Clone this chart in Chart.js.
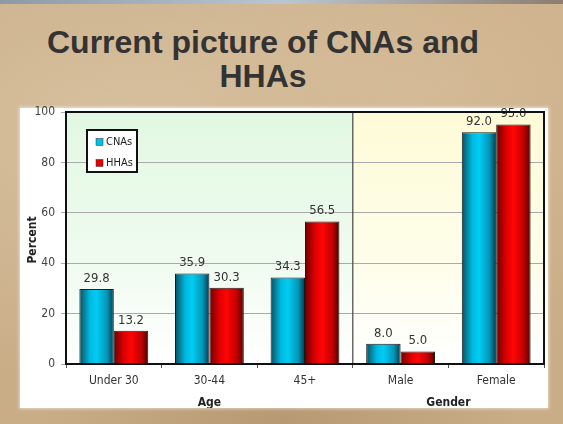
<!DOCTYPE html>
<html><head><meta charset="utf-8">
<script src="https://cdn.jsdelivr.net/npm/chart.js@4/dist/chart.umd.min.js"></script>
<style>
html,body{margin:0;padding:0;}
body{width:563px;height:424px;overflow:hidden;position:relative;
background:
 radial-gradient(ellipse at 20% 30%, rgba(225,205,175,0.6), rgba(0,0,0,0) 60%),
 radial-gradient(ellipse at 80% 20%, rgba(220,195,160,0.5), rgba(0,0,0,0) 55%),
 radial-gradient(ellipse at 50% 100%, rgba(165,135,95,0.5), rgba(0,0,0,0) 60%),
 #c9ad87;}
#strip{position:absolute;left:0;top:0;width:563px;height:4px;background:linear-gradient(90deg,#8c9aa8,#b9c6d2,#8e7d70);}
#title{position:absolute;left:0;top:25px;width:526px;text-align:center;font-family:"Liberation Sans",Arial,sans-serif;font-weight:bold;font-size:32px;line-height:34px;color:#333;}
#panel{position:absolute;left:20px;top:108px;width:528px;height:300px;background:#fff;box-shadow:0 0 3px 1px rgba(255,255,255,0.5);}
canvas{position:absolute;left:0;top:-8px;}
</style></head>
<body>
<div id="strip"></div>
<div id="title">Current picture of CNAs and<br>HHAs</div>
<div id="panel"><canvas id="c" width="528" height="308"></canvas></div>
<script>
const categories = ["Under 30","30-44","45+","Male","Female"];
const groups = [{name:"Age", from:0, to:2},{name:"Gender", from:3, to:4}];
const cnas = [29.8, 35.9, 34.3, 8.0, 92.0];
const hhas = [13.2, 30.3, 56.5, 5.0, 95.0];
const yTicks = [0,20,40,60,80,100];
const seriesNames = ["CNAs","HHAs"];

const FONT = "'Liberation Sans Narrow','DejaVu Sans Condensed',sans-serif";
const palettes = [
  ["#0a4f60","#00b8de","#00cdf4","#0596b8","#043a4a"],
  ["#6e0000","#e00000","#ff0505","#c00000","#4a0000"]
];
const solid = ["#00bfe8","#e80000"];

const plugin = {
  id:'custom',
  beforeDraw(chart){
    const {ctx, chartArea:a, scales:{x}} = chart;
    const div = (x.getPixelForValue(2)+x.getPixelForValue(3))/2;
    let g = ctx.createLinearGradient(0,a.top,0,a.bottom);
    g.addColorStop(0,"#e2f8e2"); g.addColorStop(0.55,"#eefbee"); g.addColorStop(1,"#ffffff");
    ctx.fillStyle=g; ctx.fillRect(a.left,a.top,div-a.left,a.bottom-a.top);
    g = ctx.createLinearGradient(0,a.top,0,a.bottom);
    g.addColorStop(0,"#fdfbd6"); g.addColorStop(0.55,"#fefde8"); g.addColorStop(1,"#ffffff");
    ctx.fillStyle=g; ctx.fillRect(div,a.top,a.right-div,a.bottom-a.top);
  },
  beforeDatasetsDraw(chart){
    const ctx = chart.ctx;
    chart.data.datasets.forEach((ds,di)=>{
      chart.getDatasetMeta(di).data.forEach(el=>{
        const l = el.x-el.width/2, r = el.x+el.width/2;
        const g = ctx.createLinearGradient(l,0,r,0);
        const p = palettes[di];
        g.addColorStop(0,p[0]); g.addColorStop(0.3,p[1]); g.addColorStop(0.5,p[2]); g.addColorStop(0.8,p[3]); g.addColorStop(1,p[4]);
        el.options = Object.assign({}, el.options, {backgroundColor:g});
      });
    });
  },
  afterDatasetsDraw(chart){
    const {ctx, chartArea:a, scales:{x}} = chart;
    ctx.save();
    ctx.font = "13px "+FONT; ctx.fillStyle="#333"; ctx.textAlign="center"; ctx.textBaseline="bottom";
    chart.data.datasets.forEach((ds,di)=>{
      chart.getDatasetMeta(di).data.forEach((el,i)=>{
        ctx.fillText(ds.data[i].toFixed(1), el.x, el.y-4);
      });
    });
    const div = (x.getPixelForValue(2)+x.getPixelForValue(3))/2;
    ctx.strokeStyle="#444"; ctx.lineWidth=1.2;
    ctx.beginPath(); ctx.moveTo(div,a.top); ctx.lineTo(div,a.bottom); ctx.stroke();
    ctx.strokeStyle="#111"; ctx.lineWidth=2;
    ctx.strokeRect(a.left,a.top,a.right-a.left,a.bottom-a.top);
    ctx.font = "bold 12px "+FONT; ctx.fillStyle="#222"; ctx.textBaseline="middle";
    groups.forEach(gr=>{
      const cx = (x.getPixelForValue(gr.from)+x.getPixelForValue(gr.to))/2;
      ctx.fillText(gr.name, cx, a.bottom+39);
    });
    ctx.save(); ctx.translate(13,(a.top+a.bottom)/2+2); ctx.rotate(-Math.PI/2);
    ctx.fillText("Percent",0,0); ctx.restore();
    const lx=a.left+21, ly=a.top+18, lw=50, lh=42;
    ctx.fillStyle="#fff"; ctx.fillRect(lx,ly,lw,lh);
    ctx.strokeStyle="#111"; ctx.lineWidth=2; ctx.strokeRect(lx,ly,lw,lh);
    ctx.font = "11px "+FONT; ctx.textAlign="left";
    seriesNames.forEach((n,i)=>{
      const yy = ly+12+i*21;
      ctx.fillStyle=solid[i]; ctx.fillRect(lx+9,yy-3.5,7,7);
      ctx.strokeStyle="#333"; ctx.lineWidth=0.5; ctx.strokeRect(lx+9,yy-3.5,7,7);
      ctx.fillStyle="#222"; ctx.fillText(n,lx+19,yy);
    });
    ctx.restore();
  }
};

new Chart(document.getElementById('c'),{
  type:'bar',
  data:{labels:categories,datasets:[
    {label:seriesNames[0],data:cnas,backgroundColor:solid[0],borderColor:"#1a1a1a",borderWidth:1,categoryPercentage:0.72,barPercentage:1},
    {label:seriesNames[1],data:hhas,backgroundColor:solid[1],borderColor:"#1a1a1a",borderWidth:1,categoryPercentage:0.72,barPercentage:1}
  ]},
  options:{
    responsive:false,animation:false,
    layout:{padding:{top:12,right:4,left:0,bottom:0}},
    plugins:{legend:{display:false},tooltip:{enabled:false}},
    scales:{
      x:{
        afterFit(s){s.height=44;s.paddingLeft=0;s.paddingRight=0;},
        grid:{offset:true,drawOnChartArea:false,drawTicks:true,tickLength:4,color:"#555"},
        border:{display:false},
        ticks:{color:"#333",font:{family:FONT,size:12},padding:6,maxRotation:0}
      },
      y:{
        min:0,max:100,
        afterFit(s){s.width=46;s.paddingTop=0;s.paddingBottom=0;},
        afterBuildTicks(s){s.ticks=yTicks.map(v=>({value:v}));},
        grid:{color:"#aaa",lineWidth:1,tickLength:5,drawTicks:true},
        border:{display:false},
        ticks:{color:"#444",font:{family:FONT,size:12},padding:6}
      }
    }
  },
  plugins:[plugin]
});
</script>
</body></html>
